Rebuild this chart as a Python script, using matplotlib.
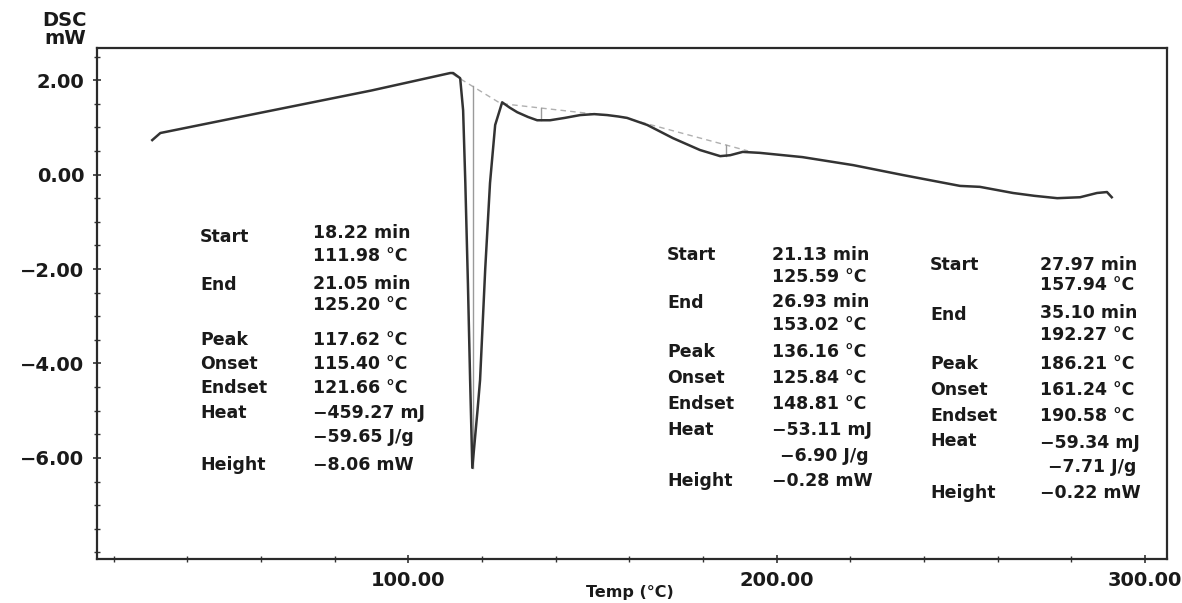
import matplotlib
matplotlib.use("Agg")
import matplotlib.pyplot as plt
from matplotlib.ticker import MultipleLocator, FixedLocator

plt.rcParams['font.family'] = ['DejaVu Sans']

W, H = 1182, 603

# DSC curve
temp = [30.5, 32.7, 60.0, 90.0, 111.4, 112.2, 114.1, 114.9, 115.5, 116.2, 116.8, 117.4,
        118.1, 118.8, 119.5, 120.9, 122.2, 123.6, 125.5, 127.5, 129.6, 132.5, 135.0, 138.5,
        142.5, 146.7, 150.5, 154.0, 157.0, 159.4, 164.9, 171.9, 179.2, 184.7, 187.4, 190.8,
        195.4, 207.0, 220.8, 234.3, 249.8, 255.2, 264.2, 270.0, 276.2, 282.4, 287.0, 289.7, 291.0]
dsc = [0.73, 0.88, 1.31, 1.78, 2.15, 2.15, 2.04, 1.36, -0.18, -2.3, -4.35, -6.21,
       -5.6, -5.0, -4.35, -2.0, -0.18, 1.05, 1.53, 1.42, 1.32, 1.22, 1.15, 1.15,
       1.20, 1.26, 1.28, 1.26, 1.23, 1.20, 1.05, 0.77, 0.52, 0.39, 0.41, 0.48,
       0.46, 0.37, 0.20, -0.01, -0.24, -0.26, -0.39, -0.45, -0.50, -0.48, -0.39, -0.37, -0.48]

# integration baselines (start/end temp, start/end dsc) and height markers
base_t = [(111.98, 125.20), (125.59, 153.02), (157.94, 192.27)]
base_d = [(2.13, 1.50), (1.50, 1.26), (1.22, 0.50)]
height_t = [117.62, 136.16, 186.21]
height_top = [1.88, 1.40, 0.62]
height_bot = [-6.21, 1.15, 0.39]

y_ticks = [2.0, 0.0, -2.0, -4.0, -6.0]
y_labels = ["2.00", "0.00", "\u22122.00", "\u22124.00", "\u22126.00"]
x_ticks = [100, 200, 300]
x_labels = ["100.00", "200.00", "300.00"]

# result blocks: label column, value column (pixel anchors) and rows
blk_names = [
    ["Start", "End", "Peak", "Onset", "Endset", "Heat", "Height"],
    ["Start", "End", "Peak", "Onset", "Endset", "Heat", "Height"],
    ["Start", "End", "Peak", "Onset", "Endset", "Heat", "Height"],
]
blk_name_y = [
    [237, 285, 340, 364, 388, 413, 465],
    [255, 303, 352, 378, 404, 430, 481],
    [265, 315, 364, 390, 416, 441, 493],
]
blk_vals = [
    ["18.22 min", "111.98 \u00b0C", "21.05 min", "125.20 \u00b0C", "117.62 \u00b0C", "115.40 \u00b0C",
     "121.66 \u00b0C", "\u2212459.27 mJ", "\u221259.65 J/g", "\u22128.06 mW"],
    ["21.13 min", "125.59 \u00b0C", "26.93 min", "153.02 \u00b0C", "136.16 \u00b0C", "125.84 \u00b0C",
     "148.81 \u00b0C", "\u221253.11 mJ", "\u22126.90 J/g", "\u22120.28 mW"],
    ["27.97 min", "157.94 \u00b0C", "35.10 min", "192.27 \u00b0C", "186.21 \u00b0C", "161.24 \u00b0C",
     "190.58 \u00b0C", "\u221259.34 mJ", "\u22127.71 J/g", "\u22120.22 mW"],
]
blk_val_y = [
    [233, 256, 284, 305, 340, 364, 388, 413, 437, 465],
    [255, 277, 302, 325, 352, 378, 404, 430, 456, 481],
    [265, 285, 313, 335, 364, 390, 416, 443, 467, 493],
]
blk_name_x = [200, 667, 930]
blk_val_x = [313, 772, 1040]
blk_val_x_jg = [313, 780, 1048]

fig = plt.figure(figsize=(W / 100, H / 100), dpi=100)
ax = fig.add_axes([97 / W, 1 - 559 / H, (1167 - 97) / W, (559 - 48) / H])

ax.plot(temp, dsc, color="#333333", lw=1.8, solid_joinstyle="round", zorder=3)
for (t0, t1), (d0, d1) in zip(base_t, base_d):
    ax.plot([t0, t1], [d0, d1], color="#b0b0b0", lw=1.0, ls=(0, (4, 3)), zorder=2)
for t, d0, d1 in zip(height_t, height_top, height_bot):
    ax.plot([t, t], [d0, d1], color="#9a9a9a", lw=1.0, zorder=2)

ax.set_xlim(15.5, 306)
ax.set_ylim(-8.14, 2.68)
ax.xaxis.set_major_locator(FixedLocator(x_ticks))
ax.set_xticklabels(x_labels)
ax.xaxis.set_minor_locator(MultipleLocator(20))
ax.yaxis.set_major_locator(FixedLocator(y_ticks))
ax.set_yticklabels(y_labels)
ax.yaxis.set_minor_locator(MultipleLocator(0.5))

ax.tick_params(which="major", direction="inout", length=6, width=1.2, color="#333333",
               labelsize=14, pad=6)
ax.tick_params(which="minor", direction="inout", length=4, width=1.0, color="#333333")
for lab in ax.get_xticklabels() + ax.get_yticklabels():
    lab.set_fontweight("bold")
    lab.set_color("#1a1a1a")
for s in ax.spines.values():
    s.set_linewidth(1.6)
    s.set_color("#2a2a2a")

fig.text(65 / W, 1 - 20 / H, "DSC", ha="center", va="center", fontsize=14, fontweight="bold", color="#1a1a1a")
fig.text(65 / W, 1 - 39 / H, "mW", ha="center", va="center", fontsize=14, fontweight="bold", color="#1a1a1a")
fig.text(630 / W, 1 - 592 / H, "Temp (\u00b0C)", ha="center", va="center", fontsize=11.5, fontweight="bold",
         color="#1a1a1a")

for b in range(3):
    for name, y in zip(blk_names[b], blk_name_y[b]):
        fig.text(blk_name_x[b] / W, 1 - y / H, name, ha="left", va="center", fontsize=12.5,
                 fontweight="bold", color="#1a1a1a")
    for val, y in zip(blk_vals[b], blk_val_y[b]):
        x = blk_val_x_jg[b] if val.endswith("J/g") else blk_val_x[b]
        fig.text(x / W, 1 - y / H, val, ha="left", va="center", fontsize=12.5,
                 fontweight="bold", color="#1a1a1a")

fig.savefig("out.png", dpi=100)
